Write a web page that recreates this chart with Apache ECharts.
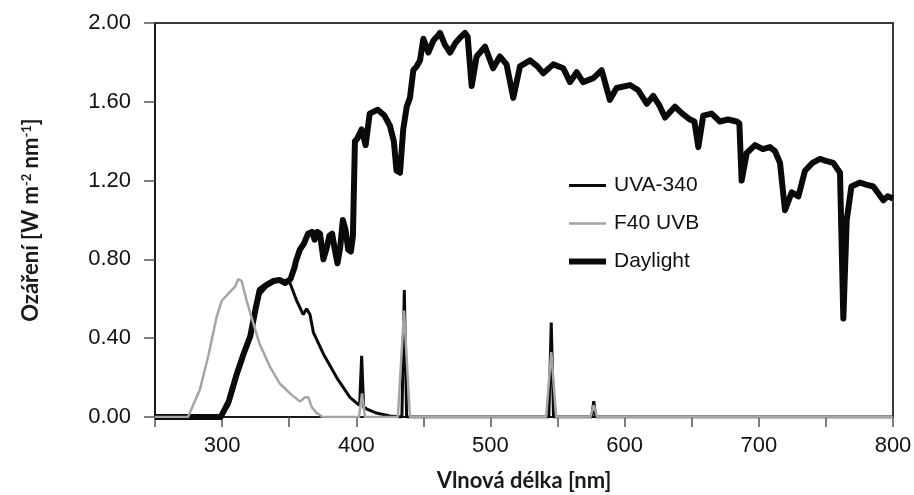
<!DOCTYPE html>
<html>
<head>
<meta charset="utf-8">
<script src="https://cdn.jsdelivr.net/npm/echarts@6/dist/echarts.min.js"></script>
<style>
  html, body { margin: 0; padding: 0; background: #fff; }
  #chart { width: 914px; height: 495px; }
</style>
</head>
<body>
<div id="chart"></div>
<script>
// Spectral irradiance of two fluorescent lamps compared with daylight

const seriesNames = ['UVA-340', 'F40 UVB', 'Daylight'];

// Daylight (sunlight) spectrum
const daylightNm = [250, 299, 300, 305, 311, 316, 321, 325, 328, 333, 338, 343, 347, 351, 354, 355, 358, 361, 364, 367, 369, 371, 373, 375.5, 378, 380, 382, 384, 386, 388, 390, 392, 394, 396, 397.5, 399, 400.5, 404, 407, 410, 413, 416, 421, 425, 428, 430, 432.6, 435, 437.6, 440, 442.5, 445, 447.5, 450, 453.7, 457.4, 460, 462.4, 466, 469.9, 474, 478, 481, 483, 486, 489.7, 495.9, 502, 507, 512, 517, 522, 529.5, 535, 539.4, 546.8, 554.3, 559.3, 564.3, 569, 576.7, 582.9, 589, 594, 604, 610, 616.5, 621.3, 626, 630.1, 637.5, 643, 648.7, 652, 654.9, 658.6, 664.8, 671, 677, 683.5, 685.5, 687.2, 691, 697.2, 703, 708.3, 712, 715.8, 719.5, 724.5, 729.5, 734.4, 740, 745.6, 750, 755.5, 760.5, 763, 765.5, 769, 775.4, 780, 785.3, 792.8, 796, 800];
const daylightVal = [0, 0, 0, 0.08, 0.22, 0.32, 0.41, 0.55, 0.645, 0.67, 0.69, 0.695, 0.68, 0.70, 0.76, 0.79, 0.85, 0.88, 0.93, 0.94, 0.90, 0.94, 0.93, 0.80, 0.86, 0.92, 0.93, 0.85, 0.78, 0.86, 1.00, 0.95, 0.85, 0.84, 0.92, 1.40, 1.41, 1.46, 1.38, 1.54, 1.55, 1.56, 1.53, 1.48, 1.40, 1.25, 1.24, 1.46, 1.575, 1.62, 1.76, 1.78, 1.81, 1.92, 1.85, 1.91, 1.93, 1.95, 1.89, 1.85, 1.90, 1.93, 1.95, 1.93, 1.68, 1.83, 1.88, 1.77, 1.83, 1.79, 1.62, 1.78, 1.81, 1.78, 1.745, 1.79, 1.77, 1.70, 1.75, 1.70, 1.72, 1.76, 1.61, 1.67, 1.685, 1.66, 1.59, 1.63, 1.58, 1.52, 1.575, 1.54, 1.51, 1.50, 1.37, 1.53, 1.54, 1.50, 1.51, 1.50, 1.49, 1.20, 1.34, 1.38, 1.36, 1.37, 1.35, 1.29, 1.05, 1.14, 1.12, 1.25, 1.29, 1.31, 1.30, 1.29, 1.24, 0.50, 1.00, 1.17, 1.19, 1.18, 1.17, 1.10, 1.12, 1.11];

// UVA-340 lamp spectrum
const uvaNm = [250, 299, 300, 305, 311, 316, 321, 325, 328, 333, 338, 343, 347, 350.6, 355.6, 360.5, 363, 365.5, 368, 375.5, 385.4, 395.3, 400.3, 402.5, 404, 405.5, 408, 415, 425, 434, 435.8, 437.5, 543.5, 545.3, 547, 575.5, 577, 578.5, 800];
const uvaVal = [0, 0, 0, 0.06, 0.20, 0.31, 0.40, 0.53, 0.62, 0.66, 0.68, 0.70, 0.69, 0.68, 0.59, 0.52, 0.55, 0.52, 0.43, 0.32, 0.20, 0.10, 0.07, 0.06, 0.31, 0.05, 0.04, 0.02, 0.005, 0, 0.645, 0, 0, 0.48, 0, 0, 0.08, 0, 0];

// F40 UVB lamp spectrum
const f40Nm = [250, 274.6, 276, 283.5, 289.7, 296, 299.7, 306, 309.6, 312, 314.6, 318.3, 323.3, 328, 335.7, 343, 350.6, 358, 361.8, 364.3, 366.8, 370.5, 375, 402, 404.3, 406.5, 431, 435.6, 440, 541.5, 545.3, 549, 574.5, 577, 579.5, 800];
const f40Val = [0, 0, 0.01, 0.14, 0.31, 0.51, 0.59, 0.636, 0.66, 0.70, 0.69, 0.59, 0.475, 0.37, 0.255, 0.17, 0.12, 0.078, 0.10, 0.10, 0.05, 0.02, 0, 0, 0.12, 0, 0, 0.54, 0, 0, 0.33, 0, 0, 0.06, 0, 0];

// Axis ticks
const xMin = 250, xMax = 800, xStep = 50, xLabelStep = 100;
const yMin = 0, yMax = 2, yStep = 0.4;

// Line look per series
const styles = {
  'Daylight': { color: '#0a0a0a', width: 6 },
  'UVA-340': { color: '#0a0a0a', width: 3 },
  'F40 UVB': { color: '#a5a5a5', width: 2.5 }
};

const pairs = (xs, ys) => xs.map((x, i) => [x, ys[i]]);

const tickFont = { fontFamily: 'Liberation Sans', fontSize: 22, color: '#111' };

const chart = echarts.init(document.getElementById('chart'), null, { renderer: 'canvas' });
chart.setOption({
  animation: false,
  backgroundColor: '#ffffff',
  grid: {
    left: 155, right: 21, top: 23, bottom: 78,
    show: true, borderColor: '#3a3a3a', borderWidth: 2,
    containLabel: false, outerBoundsMode: 'none'
  },
  legend: {
    orient: 'vertical',
    left: 561,
    top: 170,
    itemWidth: 37,
    itemHeight: 20,
    itemGap: 17,
    data: seriesNames.map(n => ({ name: n, lineStyle: { width: styles[n].width, color: styles[n].color } })),
    itemStyle: { opacity: 0, borderWidth: 0 },
    textStyle: { fontFamily: 'Liberation Sans', fontSize: 21, color: '#111', padding: [0, 0, 0, 3] }
  },
  xAxis: {
    type: 'value',
    min: xMin,
    max: xMax,
    interval: xStep,
    name: 'Vlnová délka [nm]',
    nameLocation: 'middle',
    nameGap: 53,
    nameTextStyle: { fontFamily: 'Lato', fontWeight: 'bold', fontSize: 22, color: '#1a1a1a' },
    axisLine: { lineStyle: { color: '#1a1a1a', width: 2 } },
    axisTick: { show: true, inside: false, length: 10, lineStyle: { color: '#555', width: 1.5 } },
    axisLabel: {
      ...tickFont,
      margin: 18,
      formatter: v => (v % xLabelStep === 0 && v !== xMin ? String(v) : '')
    },
    splitLine: { show: false }
  },
  yAxis: {
    type: 'value',
    min: yMin,
    max: yMax,
    interval: yStep,
    name: 'Ozáření [W m{sup|-2} nm{sup|-1}]',
    nameLocation: 'middle',
    nameRotate: 90,
    nameGap: 113,
    nameTextStyle: {
      fontFamily: 'Lato', fontWeight: 'bold', fontSize: 22, color: '#1a1a1a',
      rich: {
        sup: { fontFamily: 'Lato', fontWeight: 'bold', fontSize: 13, color: '#1a1a1a', verticalAlign: 'top', lineHeight: 12 }
      }
    },
    axisLine: { show: true, lineStyle: { color: '#1a1a1a', width: 2 } },
    axisTick: { show: true, inside: false, length: 11, lineStyle: { color: '#555', width: 1.5 } },
    axisLabel: { ...tickFont, margin: 24, formatter: v => v.toFixed(2) },
    splitLine: { show: false }
  },
  series: [
    {
      name: 'Daylight', type: 'line', symbol: 'none', z: 2,
      data: pairs(daylightNm, daylightVal),
      lineStyle: { ...styles['Daylight'], join: 'round' },
      itemStyle: { color: styles['Daylight'].color }
    },
    {
      name: 'UVA-340', type: 'line', symbol: 'none', z: 3,
      data: pairs(uvaNm, uvaVal),
      lineStyle: { ...styles['UVA-340'] },
      itemStyle: { color: styles['UVA-340'].color }
    },
    {
      name: 'F40 UVB', type: 'line', symbol: 'none', z: 4,
      data: pairs(f40Nm, f40Val),
      lineStyle: { ...styles['F40 UVB'] },
      itemStyle: { color: styles['F40 UVB'].color }
    }
  ]
});
</script>
</body>
</html>
